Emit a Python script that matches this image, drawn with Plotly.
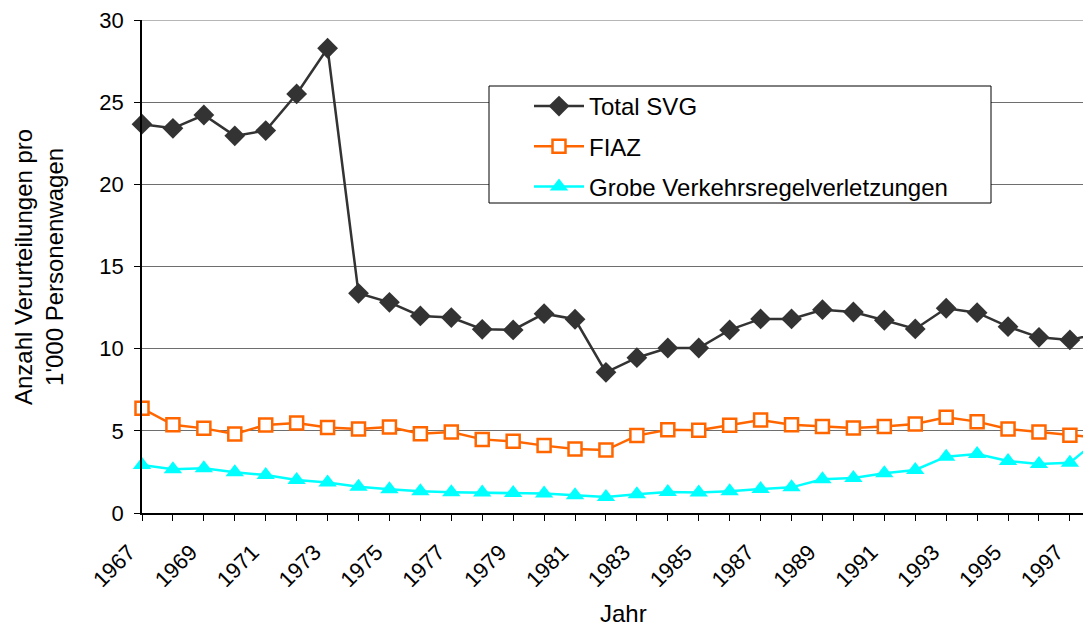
import plotly.graph_objects as go

years = list(range(1967, 1999))
total_svg = [23.66, 23.41, 24.22, 22.95, 23.27, 25.5, 28.28, 13.37, 12.82, 11.99,
             11.89, 11.18, 11.14, 12.13, 11.79, 8.56, 9.45, 10.04, 10.04, 11.14,
             11.81, 11.81, 12.37, 12.23, 11.73, 11.2, 12.46, 12.19, 11.34, 10.69,
             10.53, 10.96]
fiaz = [6.37, 5.37, 5.15, 4.81, 5.36, 5.48, 5.21, 5.11, 5.23, 4.83,
        4.93, 4.48, 4.36, 4.1, 3.9, 3.83, 4.71, 5.07, 5.03, 5.34,
        5.66, 5.37, 5.27, 5.17, 5.27, 5.42, 5.82, 5.56, 5.11, 4.93,
        4.73, 4.56]
grobe = [2.92, 2.66, 2.72, 2.48, 2.31, 2.01, 1.85, 1.6, 1.44, 1.32,
         1.26, 1.24, 1.22, 1.18, 1.08, 0.97, 1.14, 1.28, 1.24, 1.32,
         1.46, 1.56, 2.05, 2.13, 2.42, 2.62, 3.43, 3.59, 3.16, 2.98,
         3.06, 4.6]

FONT = "Liberation Sans, Arial, sans-serif"
OFF = 8  # default page body margin
W, H = 1091 - OFF, 637 - 2 * OFF
# target plot area in page pixels: left 142, top 20, bottom 513, right 1091
L, T = 142 - OFF, 20 - OFF
B = H - (513 - OFF)
R = 0
pw = W - L - R
ph = H - T - B
px_per_year = 30.93
GRID = "#6e6e6e"

fig = go.Figure()
fig.add_trace(go.Scatter(
    x=years, y=total_svg, name="Total SVG", mode="lines+markers",
    line=dict(color="#333333", width=2.5),
    marker=dict(symbol="diamond", size=16, color="#333333"),
    cliponaxis=False, legendgroup="a"))
fig.add_trace(go.Scatter(
    x=years, y=fiaz, name="FIAZ", mode="lines+markers",
    line=dict(color="#FF6600", width=2.5),
    marker=dict(symbol="square", size=13, color="white",
                line=dict(color="#FF6600", width=2.5)),
    cliponaxis=False, legendgroup="b"))
fig.add_trace(go.Scatter(
    x=years, y=grobe, name="Grobe Verkehrsregelverletzungen", mode="lines+markers",
    line=dict(color="#00FFFF", width=2.5),
    marker=dict(symbol="triangle-up", size=16, color="#00FFFF"),
    cliponaxis=False, legendgroup="c"))

x0 = 1967
x1 = 1967 + pw / px_per_year
y_max = 30

def px2x(px):  # page px -> paper x
    return (px - OFF - L) / pw

def py2y(py):  # page px -> paper y
    return (H - B - (py - OFF)) / ph

# top gridline (plotly drops the grid line lying on the plot edge)
fig.add_shape(type="line", xref="paper", yref="y", x0=0, x1=1, y0=y_max, y1=y_max,
              line=dict(color=GRID, width=1), layer="below")
# legend frame
fig.add_shape(type="rect", xref="paper", yref="paper",
              x0=px2x(489), x1=px2x(991), y0=py2y(203), y1=py2y(86),
              fillcolor="white", line=dict(color="black", width=1), layer="above")

fig.update_layout(
    width=W, height=H,
    margin=dict(l=L, r=R, t=T, b=B, autoexpand=False),
    paper_bgcolor="white", plot_bgcolor="white",
    font=dict(family=FONT, color="black", size=20),
    showlegend=True,
    legend=dict(x=px2x(529), y=py2y(84), xanchor="left", yanchor="top",
                bgcolor="rgba(0,0,0,0)", borderwidth=0,
                font=dict(family=FONT, size=24, color="black"),
                traceorder="grouped", tracegroupgap=6, itemwidth=50),
    xaxis=dict(range=[x0, x1], tickmode="linear", tick0=1967, dtick=2,
               ticks="outside", ticklen=6, tickcolor="black", tickwidth=1,
               tickangle=-45, showgrid=False, zeroline=False, automargin=False,
               showline=True, linecolor="black", linewidth=1.5,
               tickfont=dict(family=FONT, size=22), ticklabeloverflow="allow",
               ticklabelshift=-13, ticklabelstandoff=10,
               minor=dict(dtick=1, tick0=1967, ticks="outside", ticklen=6,
                          tickcolor="black", showgrid=False)),
    yaxis=dict(range=[0, y_max], tickmode="linear", tick0=0, dtick=5,
               ticks="outside", ticklen=6, tickcolor="black", automargin=False,
               showgrid=True, gridcolor=GRID, gridwidth=1,
               zeroline=False, showline=True, linecolor="black", linewidth=1.5,
               tickfont=dict(family=FONT, size=22), ticklabelstandoff=6,
               ticklabeloverflow="allow"),
    annotations=[
        dict(text="Anzahl Verurteilungen pro<br>1'000 Personenwagen",
             xref="paper", yref="paper", x=px2x(39), y=py2y(267),
             xanchor="center", yanchor="middle", textangle=-90,
             showarrow=False, font=dict(family=FONT, size=24)),
        dict(text="Jahr", xref="paper", yref="paper", x=px2x(623), y=py2y(613),
             xanchor="center", yanchor="middle", showarrow=False,
             font=dict(family=FONT, size=24)),
    ],
)

fig.write_html("out.html")
